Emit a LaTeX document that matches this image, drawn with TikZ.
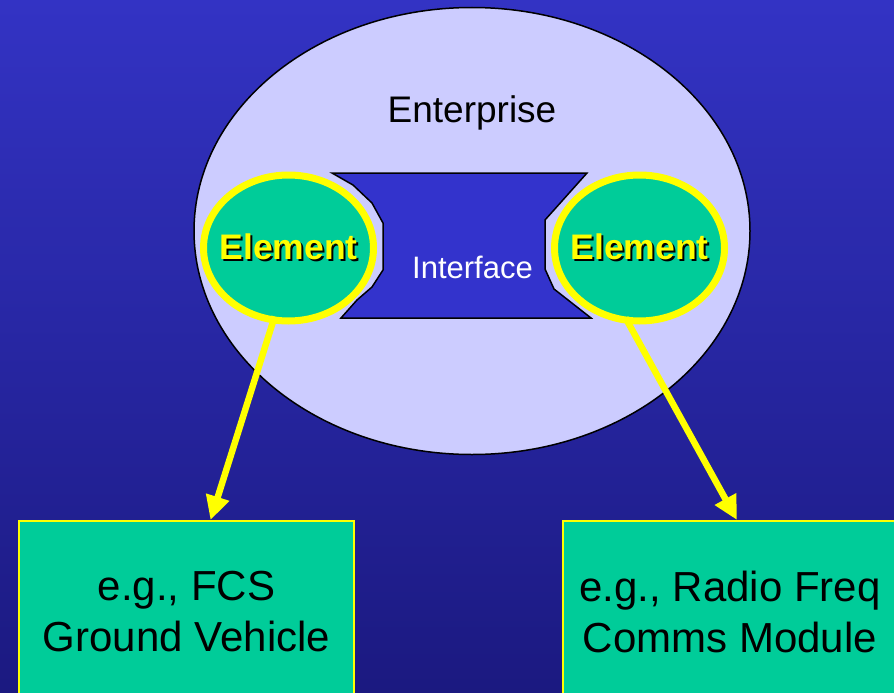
\documentclass[tikz,border=0pt]{standalone}
\usepackage{fontspec}
\setmainfont{Liberation Sans}
\usetikzlibrary{shapes.geometric,arrows.meta,calc,positioning}
\definecolor{bgtop}{RGB}{51,51,196}
\definecolor{bgbottom}{RGB}{27,25,128}
\definecolor{enterprisefill}{RGB}{204,204,255}
\definecolor{interfaceblue}{RGB}{51,51,204}
\definecolor{elementgreen}{RGB}{0,204,153}
\definecolor{signalyellow}{RGB}{255,255,0}
\newcommand{\shadowed}[1]{\makebox[0pt]{\makebox[0pt][l]{\hspace{2pt}\raisebox{-2pt}{\textcolor{black}{#1}}}#1}}

\begin{document}
\begin{tikzpicture}[x=1pt,y=-1pt,
    element/.style={ellipse, fill=elementgreen, draw=signalyellow, line width=7pt,
        minimum width=170pt, minimum height=146pt, inner sep=0pt,
        text=signalyellow, font=\fontsize{35.5}{40}\selectfont\bfseries},
    examplebox/.style={rectangle, fill=elementgreen, draw=signalyellow, line width=2pt,
        minimum width=335pt, minimum height=182pt, align=center,
        font=\fontsize{42}{51}\selectfont},
    flowarrow/.style={draw=signalyellow, line width=6.5pt,
        -{Triangle[length=24pt,width=23pt]}, shorten <=-7pt}]

% Hintergrund
\clip (0,0) rectangle (894,693);
\shade[top color=bgtop, bottom color=bgbottom] (0,0) rectangle (894,693);

% Enterprise
\node[ellipse, draw=black, line width=1.5pt, fill=enterprisefill,
    minimum width=556pt, minimum height=447pt] (enterprise) at (472,231) {};
\node[font=\fontsize{37}{44}\selectfont, anchor=base] (entlabel) at (472,122) {Enterprise};

% Interface
\draw[fill=interfaceblue, draw=black, line width=1.5pt]
    (332,173) -- (587,173) -- (545,220) -- (545,269) -- (554,289) -- (591,318)
    -- (341,318) -- (357,300) -- (372,287) -- (383,270) -- (383,223)
    -- (372,203) -- (353,185) -- cycle;
\node[text=white, font=\fontsize{31}{36}\selectfont, anchor=base] (iface) at (472.5,278) {Interface};

% Elemente
\node[element] (elemL) at (288.5,248) {\shadowed{Element}};
\node[element] (elemR) at (639.5,248) {\shadowed{Element}};

% Beispiele
\node[examplebox] (boxL) at (186.5,612) {e.g., FCS\\Ground Vehicle};
\node[examplebox] (boxR) at (730,612) {e.g., Radio Freq\\Comms Module};

% Pfeile
\draw[flowarrow] (elemL.258) -- ([xshift=24pt]boxL.north);
\draw[flowarrow] (elemR.262) -- ([xshift=7pt]boxR.north);

\end{tikzpicture}
\end{document}
